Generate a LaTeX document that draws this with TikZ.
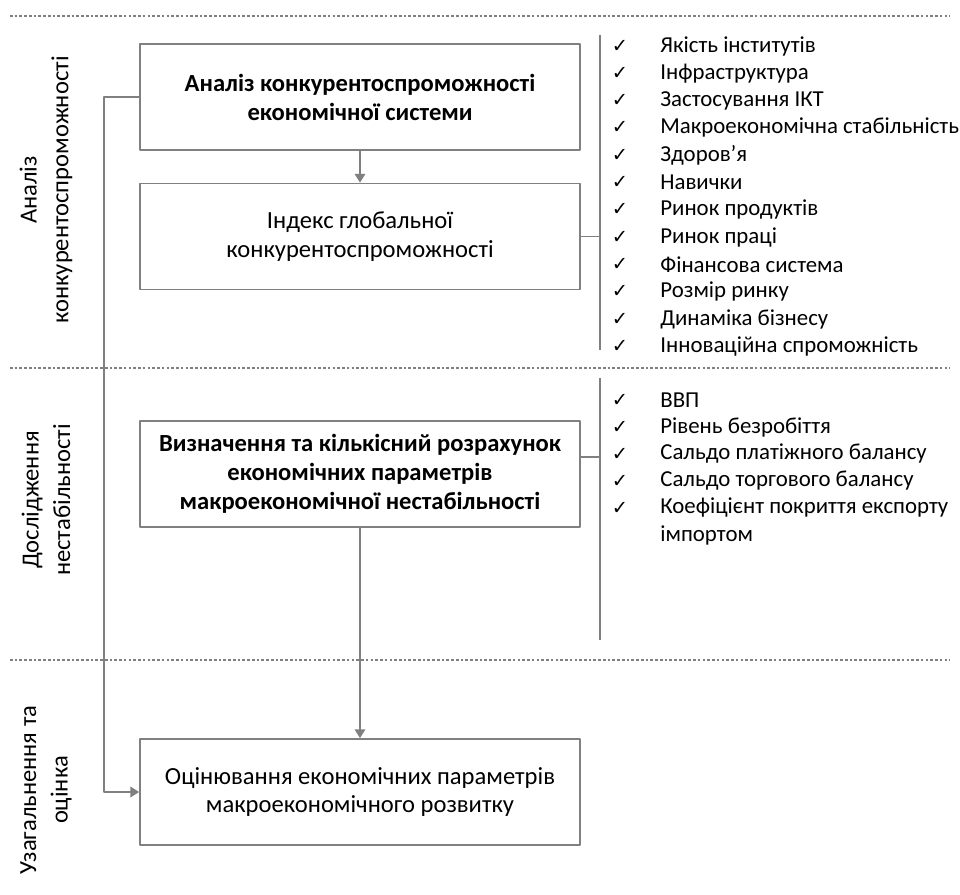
\documentclass[tikz,border=0pt]{standalone}
\usepackage{fontspec}
\setmainfont{Carlito}
\newfontfamily\symfont{DejaVu Sans}
\usetikzlibrary{arrows.meta,positioning}
\definecolor{linegray}{gray}{0.5}
\tikzset{
  box/.style={draw=linegray, line width=1pt, minimum width=8.8cm, minimum height=2.12cm,
    align=center, inner sep=0pt, font=\fontsize{14}{16.5}\selectfont},
  conn/.style={draw=linegray, line width=0.9pt},
  arr/.style={conn, -{Triangle[width=6pt,length=5pt]}},
  sepline/.style={draw=linegray, line width=0.8pt, dash pattern=on 1.5pt off 1.2pt},
  phase/.style={rotate=90, align=center, font=\fontsize{14}{18}\selectfont},
  item/.style={anchor=west, inner sep=0pt, font=\fontsize{13}{14}\selectfont},
  tick/.style={inner sep=0pt, font=\symfont\fontsize{11}{12}\selectfont},
}
\begin{document}
\begin{tikzpicture}[x=0.02cm, y=-0.02cm, line join=round]
  \useasboundingbox (0,0) rectangle (960,894);

  % separators
  \draw[sepline] (10,16) -- (950,16);
  \draw[sepline] (10,368) -- (950,368);
  \draw[sepline] (10,660) -- (950,660);

  % phase labels
  \node[phase] (ph1) at (46,190) {Аналіз\\конкурентоспроможності};
  \node[phase] (ph2) at (46,500) {Дослідження\\нестабільності};
  \node[phase] (ph3) at (46,790) {Узагальнення та\\оцінка};

  % boxes
  \node[box] (analiz) at (360,97) {\bfseries Аналіз конкурентоспроможності\\\bfseries економічної системи};
  \node[box] (indeks) at (360,236.5) {Індекс глобальної\\конкурентоспроможності};
  \node[box] (vyznach) at (360,474) {\bfseries Визначення та кількісний розрахунок\\\bfseries економічних параметрів\\\bfseries макроекономічної нестабільності};
  \node[box] (otsin) at (360,792) {Оцінювання економічних параметрів\\макроекономічного розвитку};

  \draw[arr] (analiz) -- (indeks);
  \draw[arr] (vyznach) -- (otsin);

  \coordinate (bend) at (104,97);
  \draw[arr] (analiz.west) -- (bend) |- (otsin.west);

  % brackets
  \coordinate (br1top) at (600,35);
  \coordinate (br1bot) at (600,350);
  \coordinate (br2top) at (600,378);
  \coordinate (br2bot) at (600,640);
  \draw[conn] (br1top) -- (br1bot);
  \draw[conn] (br2top) -- (br2bot);
  \draw[conn] (indeks.east) -- (indeks.east -| br1top);
  \draw[conn] ([yshift=-0.74cm]vyznach.north east) -- ([yshift=-0.74cm]vyznach.north east -| br2top);

  % indicators
  \foreach \t [count=\i from 0] in {Якість інститутів, Інфраструктура, Застосування ІКТ,
      Макроекономічна стабільність, Здоров’я, Навички, Ринок продуктів, Ринок праці,
      Фінансова система, Розмір ринку, Динаміка бізнесу, Інноваційна спроможність}
  {
    \node[tick] (ta\i) at (620,46+27.3*\i) {✓};
    \node[item] (ia\i) at (660,46+27.3*\i) {\t};
  }
  \foreach \t [count=\i from 0] in {ВВП, Рівень безробіття, Сальдо платіжного балансу,
      Сальдо торгового балансу, Коефіцієнт покриття експорту}
  {
    \node[tick] (tb\i) at (620,400+27*\i) {✓};
    \node[item] (ib\i) at (660,400+27*\i) {\t};
  }
  \node[item] (ib5) at (660,535) {імпортом};
\end{tikzpicture}
\end{document}
